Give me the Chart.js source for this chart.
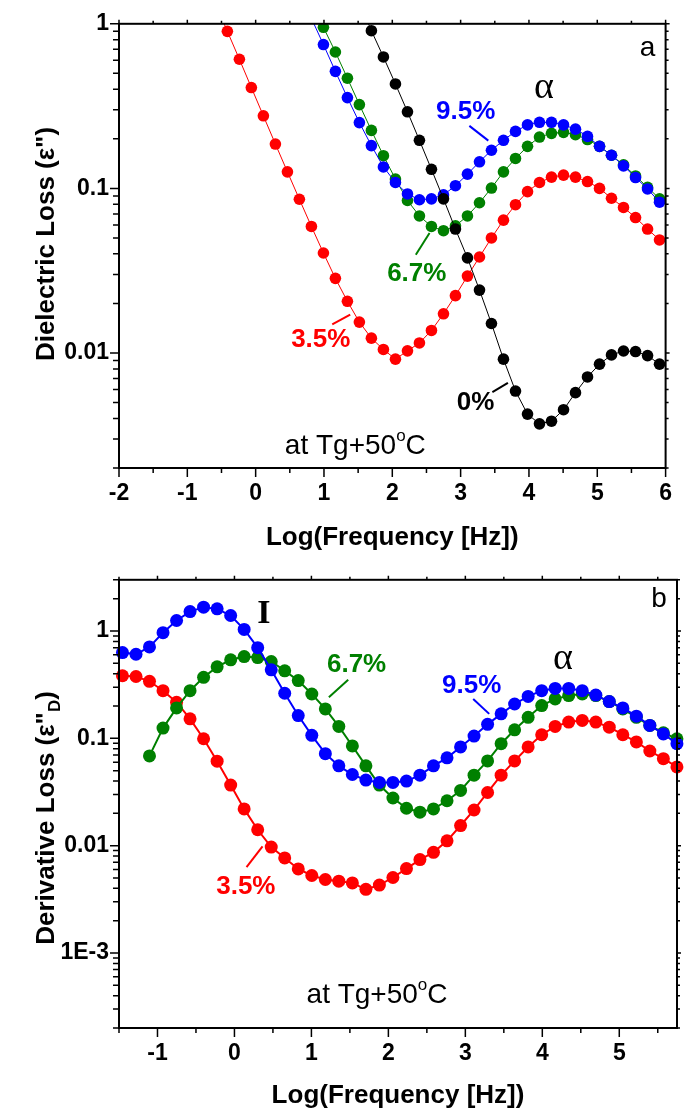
<!DOCTYPE html>
<html>
<head>
<meta charset="utf-8">
<title>Dielectric and derivative loss</title>
<script src="https://cdn.jsdelivr.net/npm/chart.js@4.4.0/dist/chart.umd.min.js"></script>
<style>
  html, body { margin: 0; padding: 0; background: #fff; }
  canvas { display: block; }
</style>
</head>
<body>
<canvas id="chartA" width="684" height="556"></canvas>
<canvas id="chartB" width="684" height="558"></canvas>
<script>
// ---- panel a: dielectric loss, log(f) spaced by factor 1.5 ----
const logFreqA = [-0.590, -0.414, -0.238, -0.063, 0.113, 0.289, 0.465, 0.640, 0.816, 0.992,
  1.167, 1.343, 1.518, 1.694, 1.870, 2.046, 2.222, 2.397, 2.573, 2.749,
  2.924, 3.100, 3.276, 3.451, 3.627, 3.803, 3.979, 4.154, 4.330, 4.506,
  4.681, 4.857, 5.033, 5.208, 5.384, 5.560, 5.736, 5.911];

const loss35 = [1.33, 0.90, 0.609, 0.41, 0.276, 0.186, 0.126, 0.0859, 0.0587, 0.0405,
  0.0284, 0.0206, 0.0154, 0.0123, 0.0105, 0.00917, 0.0103, 0.0115, 0.0137, 0.0173,
  0.0223, 0.0293, 0.0383, 0.0500, 0.0641, 0.0796, 0.0955, 0.1086, 0.117, 0.1203,
  0.117, 0.110, 0.100, 0.0871, 0.0766, 0.0665, 0.0566, 0.0486];

const loss67 = [null, null, null, null, null, null, null, null, 1.35, 0.952,
  0.674, 0.467, 0.323, 0.225, 0.158, 0.114, 0.0844, 0.068, 0.0587, 0.0553,
  0.0592, 0.068, 0.0818, 0.1005, 0.126, 0.152, 0.180, 0.205, 0.216, 0.219,
  0.212, 0.198, 0.180, 0.159, 0.139, 0.119, 0.1014, 0.0865];

const loss95 = [null, null, null, null, null, null, null, null, 1.08, 0.748,
  0.514, 0.356, 0.251, 0.182, 0.135, 0.1086, 0.0925, 0.0853, 0.0864, 0.0913,
  0.1038, 0.122, 0.145, 0.1705, 0.196, 0.222, 0.243, 0.252, 0.252, 0.243,
  0.229, 0.207, 0.180, 0.159, 0.137, 0.1164, 0.0992, 0.0824];

const loss0 = [null, null, null, null, null, null, null, null, null, null,
  null, null, 1.35, 0.908, 0.629, 0.431, 0.292, 0.196, 0.1306, 0.0864,
  0.0566, 0.0378, 0.0241, 0.0151, 0.00917, 0.00587, 0.00425, 0.00371, 0.00385, 0.00452,
  0.00574, 0.00715, 0.00855, 0.00973, 0.01028, 0.0102, 0.00964, 0.00855];

const xTicksA = [-2, -1, 0, 1, 2, 3, 4, 5, 6];
const yTicksA = [0.01, 0.1, 1];
const yLabelsA = ['0.01', '0.1', '1'];

// ---- panel b: derivative loss ----
const logFreqB = [-1.455, -1.279, -1.104, -0.928, -0.752, -0.577, -0.401, -0.225, -0.049, 0.126,
  0.302, 0.478, 0.653, 0.829, 1.005, 1.181, 1.356, 1.532, 1.708, 1.883,
  2.059, 2.235, 2.410, 2.586, 2.762, 2.938, 3.113, 3.289, 3.465, 3.640,
  3.816, 3.992, 4.167, 4.343, 4.519, 4.695, 4.870, 5.046, 5.222, 5.397,
  5.573, 5.749];

const deriv35 = [0.383, 0.377, 0.34, 0.278, 0.217, 0.152, 0.0991, 0.0612, 0.0367, 0.022,
  0.01407, 0.0097, 0.00768, 0.00607, 0.00527, 0.00484, 0.00467, 0.0045, 0.00392, 0.00429,
  0.00505, 0.00612, 0.00742, 0.00867, 0.0111, 0.0154, 0.0215, 0.0313, 0.0454, 0.0616,
  0.0831, 0.108, 0.129, 0.1416, 0.147, 0.1416, 0.127, 0.108, 0.0925, 0.0762,
  0.0647, 0.0542];

const deriv67 = [null, null, 0.0686, 0.1246, 0.192, 0.278, 0.37, 0.464, 0.539, 0.578,
  0.566, 0.52, 0.426, 0.345, 0.259, 0.188, 0.129, 0.0849, 0.0554, 0.0367,
  0.0278, 0.0223, 0.0205, 0.022, 0.0262, 0.0327, 0.0454, 0.0616, 0.0891, 0.120,
  0.157, 0.202, 0.233, 0.25, 0.259, 0.25, 0.22, 0.188, 0.157, 0.132,
  0.1127, 0.099];

const deriv95 = [0.63, 0.607, 0.711, 0.965, 1.253, 1.517, 1.668, 1.608, 1.394, 1.035,
  0.700, 0.435, 0.263, 0.163, 0.1066, 0.072, 0.0554, 0.046, 0.0408, 0.0388,
  0.0388, 0.040, 0.0454, 0.0554, 0.0658, 0.0831, 0.105, 0.135, 0.169, 0.209,
  0.246, 0.278, 0.292, 0.292, 0.278, 0.253, 0.22, 0.192, 0.161, 0.132,
  0.11, 0.0891];

const xTicksB = [-1, 0, 1, 2, 3, 4, 5];
const yTicksB = [0.001, 0.01, 0.1, 1];
const yLabelsB = ['1E-3', '0.01', '0.1', '1'];

const SANS = '"Liberation Sans", Arial, sans-serif';
const SERIF = '"Liberation Serif", "Times New Roman", serif';
const RED = '#ff0000', GREEN = '#008000', BLUE = '#0000ff', BLACK = '#000000';

function toPoints(xs, ys) {
  return xs.map((x, i) => ({ x: x, y: ys[i] }));
}

// draws a row of text pieces (for sub/superscripts)
function drawRuns(ctx, runs, x, y, align) {
  ctx.textAlign = 'left';
  let w = 0;
  runs.forEach(r => { ctx.font = r.font; w += ctx.measureText(r.t).width; });
  let cx = align === 'center' ? x - w / 2 : x;
  runs.forEach(r => {
    ctx.font = r.font;
    ctx.fillText(r.t, cx, y + (r.dy || 0));
    cx += ctx.measureText(r.t).width;
  });
}

function decor(cfg) {
  return {
    id: 'decor',
    afterDraw(chart) {
      const { ctx, chartArea: a, scales: { x, y } } = chart;
      ctx.save();

      // tick marks on all four sides, pointing out
      ctx.strokeStyle = '#000';
      ctx.lineWidth = 1.5;
      ctx.beginPath();
      for (let v = Math.ceil(x.min * 2) / 2; v <= x.max + 1e-9; v += 0.5) {
        const px = x.getPixelForValue(v);
        const major = Math.abs(v - Math.round(v)) < 1e-6;
        ctx.moveTo(px, a.bottom); ctx.lineTo(px, a.bottom + (major ? 9 : 5));
        ctx.moveTo(px, a.top); ctx.lineTo(px, a.top - (major ? 4 : 3));
      }
      const d0 = Math.floor(Math.log10(y.min)), d1 = Math.ceil(Math.log10(y.max));
      for (let d = d0; d <= d1; d++) {
        for (let m = 1; m < 10; m++) {
          const v = m * Math.pow(10, d);
          if (v < y.min * 0.999 || v > y.max * 1.001) continue;
          const py = y.getPixelForValue(v);
          ctx.moveTo(a.left, py); ctx.lineTo(a.left - (m === 1 ? 9 : 6), py);
          ctx.moveTo(a.right, py); ctx.lineTo(a.right + (m === 1 ? 4 : 3), py);
        }
      }
      ctx.stroke();
      ctx.lineWidth = 2;
      ctx.strokeRect(a.left, a.top, a.right - a.left, a.bottom - a.top);

      // axis titles
      ctx.fillStyle = '#000';
      ctx.textBaseline = 'middle';
      drawRuns(ctx, [{ t: 'Log(Frequency [Hz])', font: 'bold 26px ' + SANS }], (a.left + a.right) / 2, cfg.xTitleY, 'center');
      ctx.save();
      ctx.translate(cfg.yTitleX, cfg.yTitleY);
      ctx.rotate(-Math.PI / 2);
      ctx.textBaseline = 'alphabetic';
      drawRuns(ctx, cfg.yTitle, 0, 0, 'center');
      ctx.restore();

      // leader lines and labels
      ctx.lineWidth = 2;
      cfg.leaders.forEach(l => {
        ctx.strokeStyle = l.color;
        ctx.beginPath();
        ctx.moveTo(x.getPixelForValue(l.x1), y.getPixelForValue(l.y1));
        ctx.lineTo(x.getPixelForValue(l.x2), y.getPixelForValue(l.y2));
        ctx.stroke();
      });
      cfg.labels.forEach(l => {
        ctx.fillStyle = l.color;
        ctx.textBaseline = 'middle';
        drawRuns(ctx, l.runs, x.getPixelForValue(l.x), y.getPixelForValue(l.y), l.align || 'center');
      });

      ctx.fillStyle = '#000';
      ctx.textBaseline = 'middle';
      drawRuns(ctx, [{ t: cfg.panel, font: '28px ' + SANS }], a.right - 18, a.top + cfg.panelDy, 'center');
      ctx.restore();
    }
  };
}

function series(xs, ys, color, r, w) {
  return {
    data: toPoints(xs, ys),
    borderColor: color,
    backgroundColor: color,
    pointBackgroundColor: color,
    pointBorderWidth: 0,
    pointRadius: r,
    borderWidth: w,
    tension: 0,
    clip: { left: 10, top: 0, right: 10, bottom: 10 }
  };
}

function makeChart(id, cfg) {
  return new Chart(document.getElementById(id), {
    type: 'line',
    data: { datasets: cfg.datasets },
    options: {
      responsive: false,
      animation: false,
      events: [],
      layout: { padding: { top: cfg.padTop, right: 7, left: 0, bottom: 0 } },
      plugins: { legend: { display: false }, tooltip: { enabled: false } },
      scales: {
        x: {
          type: 'linear',
          position: 'bottom',
          bounds: 'data',
          min: cfg.xMin,
          max: cfg.xMax,
          grid: { display: false, drawTicks: false },
          border: { display: false },
          afterBuildTicks: s => { s.ticks = cfg.xTicks.map(v => ({ value: v })); },
          afterFit: s => { s.height = cfg.xAxisHeight; },
          ticks: {
            color: '#000',
            padding: 12,
            maxRotation: 0,
            autoSkip: false,
            font: { family: SANS, size: 23, weight: 'bold' },
            callback: v => String(v)
          }
        },
        y: {
          type: 'logarithmic',
          bounds: 'data',
          min: cfg.yMin,
          max: cfg.yMax,
          grid: { display: false, drawTicks: false },
          border: { display: false },
          afterBuildTicks: s => { s.ticks = cfg.yTicks.map(v => ({ value: v })); },
          afterFit: s => { s.width = 119; },
          ticks: {
            color: '#000',
            padding: 10,
            autoSkip: false,
            font: { family: SANS, size: 23, weight: 'bold' },
            callback: (v, i) => cfg.yLabels[i]
          }
        }
      }
    },
    plugins: [decor(cfg.decor)]
  });
}

const pctFont = 'bold 26px ' + SANS;
const alphaFont = '38px ' + SERIF;

makeChart('chartA', {
  padTop: 16,
  xAxisHeight: 88,
  xMin: -2, xMax: 6, xTicks: xTicksA,
  yMin: 0.002, yMax: 1, yTicks: yTicksA, yLabels: yLabelsA,
  datasets: [
    series(logFreqA, loss0, BLACK, 5.8, 1),
    series(logFreqA, loss95, BLUE, 5.8, 1),
    series(logFreqA, loss67, GREEN, 5.8, 1),
    series(logFreqA, loss35, RED, 5.8, 1)
  ],
  decor: {
    panel: 'a', panelDy: 24,
    xTitleY: 538,
    yTitleX: 54, yTitleY: 244,
    yTitle: [{ t: 'Dielectric Loss (\u03b5")', font: 'bold 26px ' + SANS }],
    leaders: [
      { x1: 3.128, y1: 0.2397, x2: 3.405, y2: 0.195, color: BLUE },
      { x1: 2.344, y1: 0.0395, x2: 2.545, y2: 0.0536, color: GREEN },
      { x1: 1.121, y1: 0.0149, x2: 1.384, y2: 0.0171, color: RED },
      { x1: 3.465, y1: 0.00579, x2: 3.692, y2: 0.00659, color: BLACK }
    ],
    labels: [
      { runs: [{ t: '9.5%', font: pctFont }], x: 3.075, y: 0.292, color: BLUE },
      { runs: [{ t: '6.7%', font: pctFont }], x: 2.358, y: 0.0304, color: GREEN },
      { runs: [{ t: '3.5%', font: pctFont }], x: 0.953, y: 0.01197, color: RED },
      { runs: [{ t: '0%', font: pctFont }], x: 3.219, y: 0.0050, color: BLACK },
      { runs: [{ t: '\u03b1', font: alphaFont }], x: 4.22, y: 0.41, color: BLACK },
      { runs: [{ t: 'at Tg+50', font: '28px ' + SANS }, { t: 'o', font: '17px ' + SANS, dy: -10 }, { t: 'C', font: '28px ' + SANS }],
        x: 0.427, y: 0.00272, color: BLACK, align: 'left' }
    ]
  }
});

makeChart('chartB', {
  padTop: 20,
  xAxisHeight: 86,
  xMin: -1.5, xMax: 5.75, xTicks: xTicksB,
  yMin: 0.0002, yMax: 3, yTicks: yTicksB, yLabels: yLabelsB,
  datasets: [
    series(logFreqB, deriv95, BLUE, 6.5, 2),
    series(logFreqB, deriv67, GREEN, 6.5, 2),
    series(logFreqB, deriv35, RED, 6.5, 2)
  ],
  decor: {
    panel: 'b', panelDy: 19,
    xTitleY: 540,
    yTitleX: 54, yTitleY: 262,
    yTitle: [
      { t: 'Derivative Loss (\u03b5"', font: 'bold 26px ' + SANS },
      { t: 'D', font: 'bold 17px ' + SANS, dy: 6 },
      { t: ')', font: 'bold 26px ' + SANS }
    ],
    leaders: [
      { x1: 1.227, y1: 0.2415, x2: 1.478, y2: 0.3518, color: GREEN },
      { x1: 3.102, y1: 0.2328, x2: 3.31, y2: 0.169, color: BLUE },
      { x1: 0.157, y1: 0.0063, x2: 0.365, y2: 0.00987, color: RED }
    ],
    labels: [
      { runs: [{ t: '6.7%', font: pctFont }], x: 1.587, y: 0.4825, color: GREEN },
      { runs: [{ t: '9.5%', font: pctFont }], x: 3.082, y: 0.3114, color: BLUE },
      { runs: [{ t: '3.5%', font: pctFont }], x: 0.148, y: 0.00411, color: RED },
      { runs: [{ t: '\u03b1', font: alphaFont }], x: 4.268, y: 0.55, color: BLACK },
      { runs: [{ t: 'I', font: 'bold 34px ' + SERIF }], x: 0.382, y: 1.42, color: BLACK },
      { runs: [{ t: 'at Tg+50', font: '28px ' + SANS }, { t: 'o', font: '17px ' + SANS, dy: -10 }, { t: 'C', font: '28px ' + SANS }],
        x: 0.937, y: 0.000402, color: BLACK, align: 'left' }
    ]
  }
});
</script>
</body>
</html>
